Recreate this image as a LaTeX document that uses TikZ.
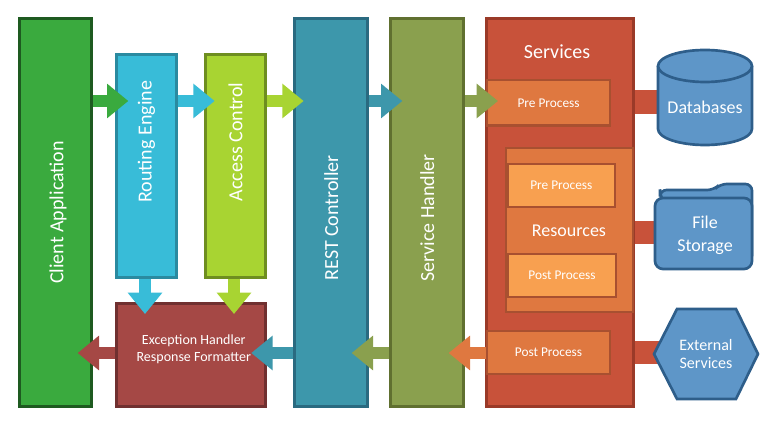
\documentclass[tikz,border=0pt]{standalone}
\usepackage{fontspec}
\setmainfont{Carlito}
\usetikzlibrary{arrows.meta,shapes.geometric}
\definecolor{cgreen}{HTML}{3AAA3E}\definecolor{cgreenD}{HTML}{1E5A20}
\definecolor{ccyan}{HTML}{38BCD8}\definecolor{ccyanD}{HTML}{2A8AA0}
\definecolor{clime}{HTML}{A8D432}\definecolor{climeD}{HTML}{6E8E20}
\definecolor{cred}{HTML}{A54845}\definecolor{credD}{HTML}{703030}
\definecolor{cteal}{HTML}{3D97AB}\definecolor{ctealD}{HTML}{2A6A80}
\definecolor{colive}{HTML}{8AA04E}\definecolor{coliveD}{HTML}{607030}
\definecolor{csrv}{HTML}{C8523A}\definecolor{csrvD}{HTML}{9A3A28}
\definecolor{corg}{HTML}{DF7840}\definecolor{corgD}{HTML}{A85030}
\definecolor{clight}{HTML}{F8A050}
\definecolor{cblue}{HTML}{5E96C8}\definecolor{cblueD}{HTML}{2E5E8A}
\begin{document}
\begin{tikzpicture}[x=0.75pt,y=-0.75pt,
  box/.style={draw=#1,line width=2.2pt,inner sep=0pt,text=white,anchor=north west,rectangle},
  fat/.style={line width=9pt,draw=#1,-{Triangle[length=16pt,width=25pt]}},
  band/.style={fill=csrv,draw=none},
  lbl/.style={text=white,font=\fontsize{10}{12}\selectfont},
  big/.style={text=white,rotate=90,font=\fontsize{15}{17}\selectfont},
]
\useasboundingbox (0,0) rectangle (776,427);
% main boxes
\node[box=cgreenD,fill=cgreen,minimum width=54pt,minimum height=291pt] (cl) at (18,17) {};
\node[big] at ([xshift=2pt]cl.center) {Client Application};
\node[box=ccyanD,fill=ccyan,minimum width=45pt,minimum height=167pt] (ro) at (115,53) {};
\node[big] at ([yshift=18pt]ro.center) {Routing Engine};
\node[box=climeD,fill=clime,minimum width=45pt,minimum height=167pt] (ac) at (204,53) {};
\node[big] at ([yshift=18pt]ac.center) {Access Control};
\node[box=credD,fill=cred,minimum width=112pt,minimum height=77pt] (ex) at (115,302) {};
\node[lbl,align=center,font=\fontsize{10.5}{12.5}\selectfont] at ([xshift=2pt,yshift=4pt]ex.center) {Exception Handler\\Response Formatter};
\node[box=ctealD,fill=cteal,minimum width=55pt,minimum height=291pt] (rc) at (293,17) {};
\node[big] at ([yshift=-4pt]rc.center) {REST Controller};
\node[box=coliveD,fill=colive,minimum width=55pt,minimum height=291pt] (sh) at (389,17) {};
\node[big] at ([yshift=-4pt]sh.center) {Service Handler};
% bands to stores
\fill[band] (620,90) rectangle (662,114);
\fill[band] (620,221) rectangle (660,244);
\fill[band] (620,341) rectangle (662,364);
\node[box=csrvD,fill=csrv,minimum width=110pt,minimum height=291pt] (sv) at (485,17) {};
\node[text=white,font=\fontsize{15}{17}\selectfont] at (557,52) {Services};
\node[box=corgD,fill=corg,minimum width=92pt,minimum height=34pt,line width=1.8pt] (pre) at (486,79) {};
\node[lbl] at (pre.center) {Pre Process};
\node[box=corgD,fill=corg,minimum width=95pt,minimum height=123pt,line width=1.5pt] (res) at (505,147) {};
\node[text=white,font=\fontsize{13.5}{16}\selectfont] at (569,231) {Resources};
\node[box=corgD,fill=clight,minimum width=80pt,minimum height=32pt,line width=1.5pt] (ipre) at (507,163) {};
\node[lbl] at (ipre.center) {Pre Process};
\node[box=corgD,fill=clight,minimum width=81pt,minimum height=32pt,line width=1.5pt] (ipost) at (507,253) {};
\node[lbl] at (ipost.center) {Post Process};
\node[box=corgD,fill=corg,minimum width=92pt,minimum height=32pt,line width=1.8pt] (post) at (486,330) {};
\node[lbl] at (post.center) {Post Process};
% databases
\filldraw[fill=cblue,draw=cblueD,line width=2pt] (658,66) -- (658,129) arc[start angle=180,end angle=0,x radius=47,y radius=16] -- (752,66);
\filldraw[fill=cblue,draw=cblueD,line width=2pt] (705,66) ellipse[x radius=47,y radius=16];
\node[text=white,font=\fontsize{13.5}{16}\selectfont] (db) at (705,107) {Databases};
% file storage
\filldraw[fill=cblue,draw=cblueD,line width=2pt,rounded corners=5pt]
  (660,196) -- (660,190) -- (714,190) -- (720,184) -- (752,184) -- (752,262) -- (700,262) -- cycle;
\filldraw[fill=cblue,draw=cblueD,line width=2pt,rounded corners=6pt] (655,198) rectangle (752,269);
\node[text=white,align=center,font=\fontsize{13.5}{17}\selectfont] (fs) at (705,235) {File\\Storage};
% external services
\filldraw[fill=cblue,draw=cblueD,line width=2pt] (654,354) -- (677,309) -- (736,309) -- (758,354) -- (736,399) -- (677,399) -- cycle;
\node[text=white,align=center,font=\fontsize{12}{14}\selectfont] (es) at (706,354) {External\\Services};
% forward arrows
\draw[fat=cgreen] (cl.east |- 0,101) -- ([xshift=10pt]ro.west |- 0,101);
\draw[fat=ccyan] (ro.east |- 0,101) -- ([xshift=8pt]ac.west |- 0,101);
\draw[fat=clime] (ac.east |- 0,101) -- ([xshift=8pt]rc.west |- 0,101);
\draw[fat=cteal] (rc.east |- 0,101) -- ([xshift=10pt]sh.west |- 0,101);
\draw[fat=colive] (sh.east |- 0,101) -- ([xshift=9pt]pre.west |- 0,101);
% down arrows
\draw[fat=ccyan] (ro.south -| 145,0) -- ([yshift=-9pt]ex.north -| 145,0);
\draw[fat=clime] (ac.south -| 234,0) -- ([yshift=-9pt]ex.north -| 234,0);
% back arrows
\draw[fat=cred] (ex.west |- 0,353) -- ([xshift=-28pt]ex.west |- 0,353);
\draw[fat=cteal] (rc.west |- 0,353) -- ([xshift=-12pt]ex.east |- 0,353);
\draw[fat=colive] (sh.west |- 0,353) -- ([xshift=-28pt]sh.west |- 0,353);
\draw[fat=corg] (post.west |- 0,353) -- ([xshift=-28pt]post.west |- 0,353);
\end{tikzpicture}
\end{document}
